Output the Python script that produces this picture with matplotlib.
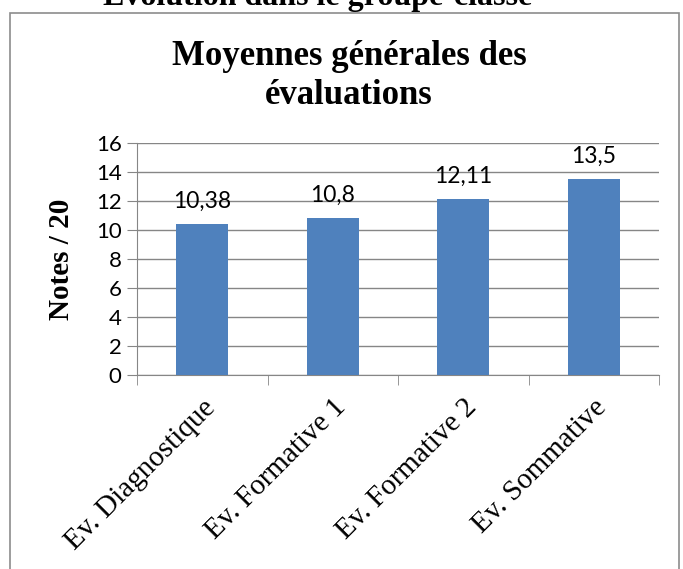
import matplotlib.pyplot as plt
from matplotlib.patches import Rectangle

# Data
categories = ["Ev. Diagnostique", "Ev. Formative 1", "Ev. Formative 2", "Ev. Sommative"]
moyennes = [10.38, 10.8, 12.11, 13.5]
labels = ["10,38", "10,8", "12,11", "13,5"]
y_ticks = [0, 2, 4, 6, 8, 10, 12, 14, 16]

BAR_COLOR = "#4F81BD"
GRID_COLOR = "#868686"
SERIF = ["Liberation Serif", "DejaVu Serif"]
SANS = ["Lato", "DejaVu Sans"]

fig = plt.figure(figsize=(6.83, 5.69), dpi=100)
ax = fig.add_axes([137 / 683, 1 - 375 / 569, (659 - 137) / 683, (375 - 143) / 569])

# Bars
x = list(range(len(categories)))
bars = ax.bar(x, moyennes, width=0.4, color=BAR_COLOR, zorder=3)
for rect, lab in zip(bars, labels):
    ax.annotate(lab, (rect.get_x() + rect.get_width() / 2, rect.get_height()),
                xytext=(0, 9), textcoords="offset points", ha="center", va="bottom",
                fontsize=16.5, family=SANS, zorder=4)

# Axes
ax.set_xlim(-0.5, len(categories) - 0.5)
ax.set_ylim(0, 16)
ax.set_yticks(y_ticks)
ax.set_yticklabels([str(t) for t in y_ticks], family=SANS, fontsize=16)
ax.yaxis.grid(True, color=GRID_COLOR, linewidth=1, zorder=0)
ax.tick_params(axis="y", length=7, color=GRID_COLOR, pad=4)

ax.set_xticks(x)
ax.set_xticklabels(categories, rotation=45, ha="right", rotation_mode="anchor",
                   family=SERIF, fontsize=21)
ax.tick_params(axis="x", length=0, pad=14)
ax.set_xticks([i - 0.5 for i in range(len(categories) + 1)], minor=True)
ax.tick_params(axis="x", which="minor", length=7, color=GRID_COLOR)

for side in ["top", "right"]:
    ax.spines[side].set_visible(False)
for side in ["left", "bottom"]:
    ax.spines[side].set_color(GRID_COLOR)

ax.set_ylabel("Notes / 20", family=SERIF, fontsize=21, fontweight="bold", labelpad=15)

# Titles
fig.text(349 / 683, 1 - 76 / 569, "Moyennes générales des\névaluations", ha="center", va="center",
         family=SERIF, fontsize=25, fontweight="bold", linespacing=1.25)
fig.text(318 / 683, 1 - 5 / 569, "Évolution dans le groupe-classe", ha="center", va="baseline",
         family=SERIF, fontsize=23, fontweight="bold")

# Border
fig.patches.append(Rectangle((9.5 / 683, -0.05), (679 - 9.5) / 683, 1.05 - 13 / 569,
                             transform=fig.transFigure, fill=False, edgecolor="#8C8C8C",
                             linewidth=1.2))

plt.savefig("out.png", dpi=100)
